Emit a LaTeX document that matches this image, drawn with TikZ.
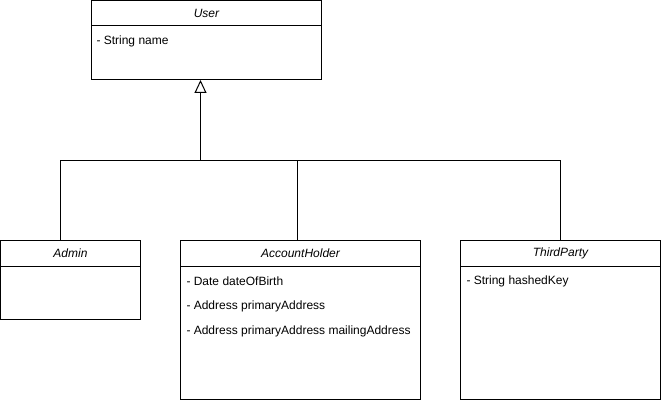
\documentclass[tikz,border=0pt]{standalone}
\usepackage{fontspec}
\setmainfont{Liberation Sans}
\usetikzlibrary{arrows.meta}
\begin{document}
\begin{tikzpicture}[x=1pt,y=-1pt,
  line width=1pt,
  box/.style={draw=black, fill=white, inner sep=0pt, outer sep=0pt, anchor=north west},
  ttl/.style={inner sep=0pt, font=\fontsize{12pt}{14pt}\selectfont\itshape},
  attr/.style={inner sep=0pt, anchor=west, font=\fontsize{12pt}{14pt}\selectfont},
  inh/.style={-{Triangle[open,length=13pt,width=12pt]}}]
\useasboundingbox (0,0) rectangle (661,401);
% User
\node[box, minimum width=230pt, minimum height=79pt] (user) at (91.5,1) {};
\draw ([yshift=-25pt]user.north west) -- ([yshift=-25pt]user.north east);
\node[ttl] (usert) at ([yshift=-12.5pt]user.north) {User};
\node[attr] (usera) at (96,41) {- String name};
% Admin
\node[box, minimum width=140pt, minimum height=79pt] (admin) at (0.5,240.5) {};
\draw ([yshift=-26pt]admin.north west) -- ([yshift=-26pt]admin.north east);
\node[ttl] (admint) at ([yshift=-13pt]admin.north) {Admin};
% AccountHolder
\node[box, minimum width=240pt, minimum height=159pt] (ah) at (180.5,240.5) {};
\draw ([yshift=-26pt]ah.north west) -- ([yshift=-26pt]ah.north east);
\node[ttl] (aht) at ([yshift=-13pt]ah.north) {AccountHolder};
\node[attr] (aha1) at (186,281) {- Date dateOfBirth};
\node[attr] (aha2) at (186,306) {- Address primaryAddress};
\node[attr] (aha3) at (186,331) {- Address primaryAddress mailingAddress};
% ThirdParty
\node[box, minimum width=200pt, minimum height=159pt] (tp) at (460.5,240.5) {};
\draw ([yshift=-26pt]tp.north west) -- ([yshift=-26pt]tp.north east);
\node[ttl] (tpt) at ([yshift=-13pt]tp.north) {ThirdParty};
\node[attr] (tpa) at (466,281) {- String hashedKey};
% connectors
\coordinate (j0) at (200.5,160.5);
\coordinate (j1) at (60.5,160.5);
\coordinate (j2) at (560.5,160.5);
\coordinate (j3) at (297.5,160.5);
\draw (admin.north -| j1) -- (j1) -- (j2) -- (tp.north -| j2);
\draw (ah.north -| j3) -- (j3);
\draw[inh] (j0) -- (user.south -| j0);
\end{tikzpicture}
\end{document}
